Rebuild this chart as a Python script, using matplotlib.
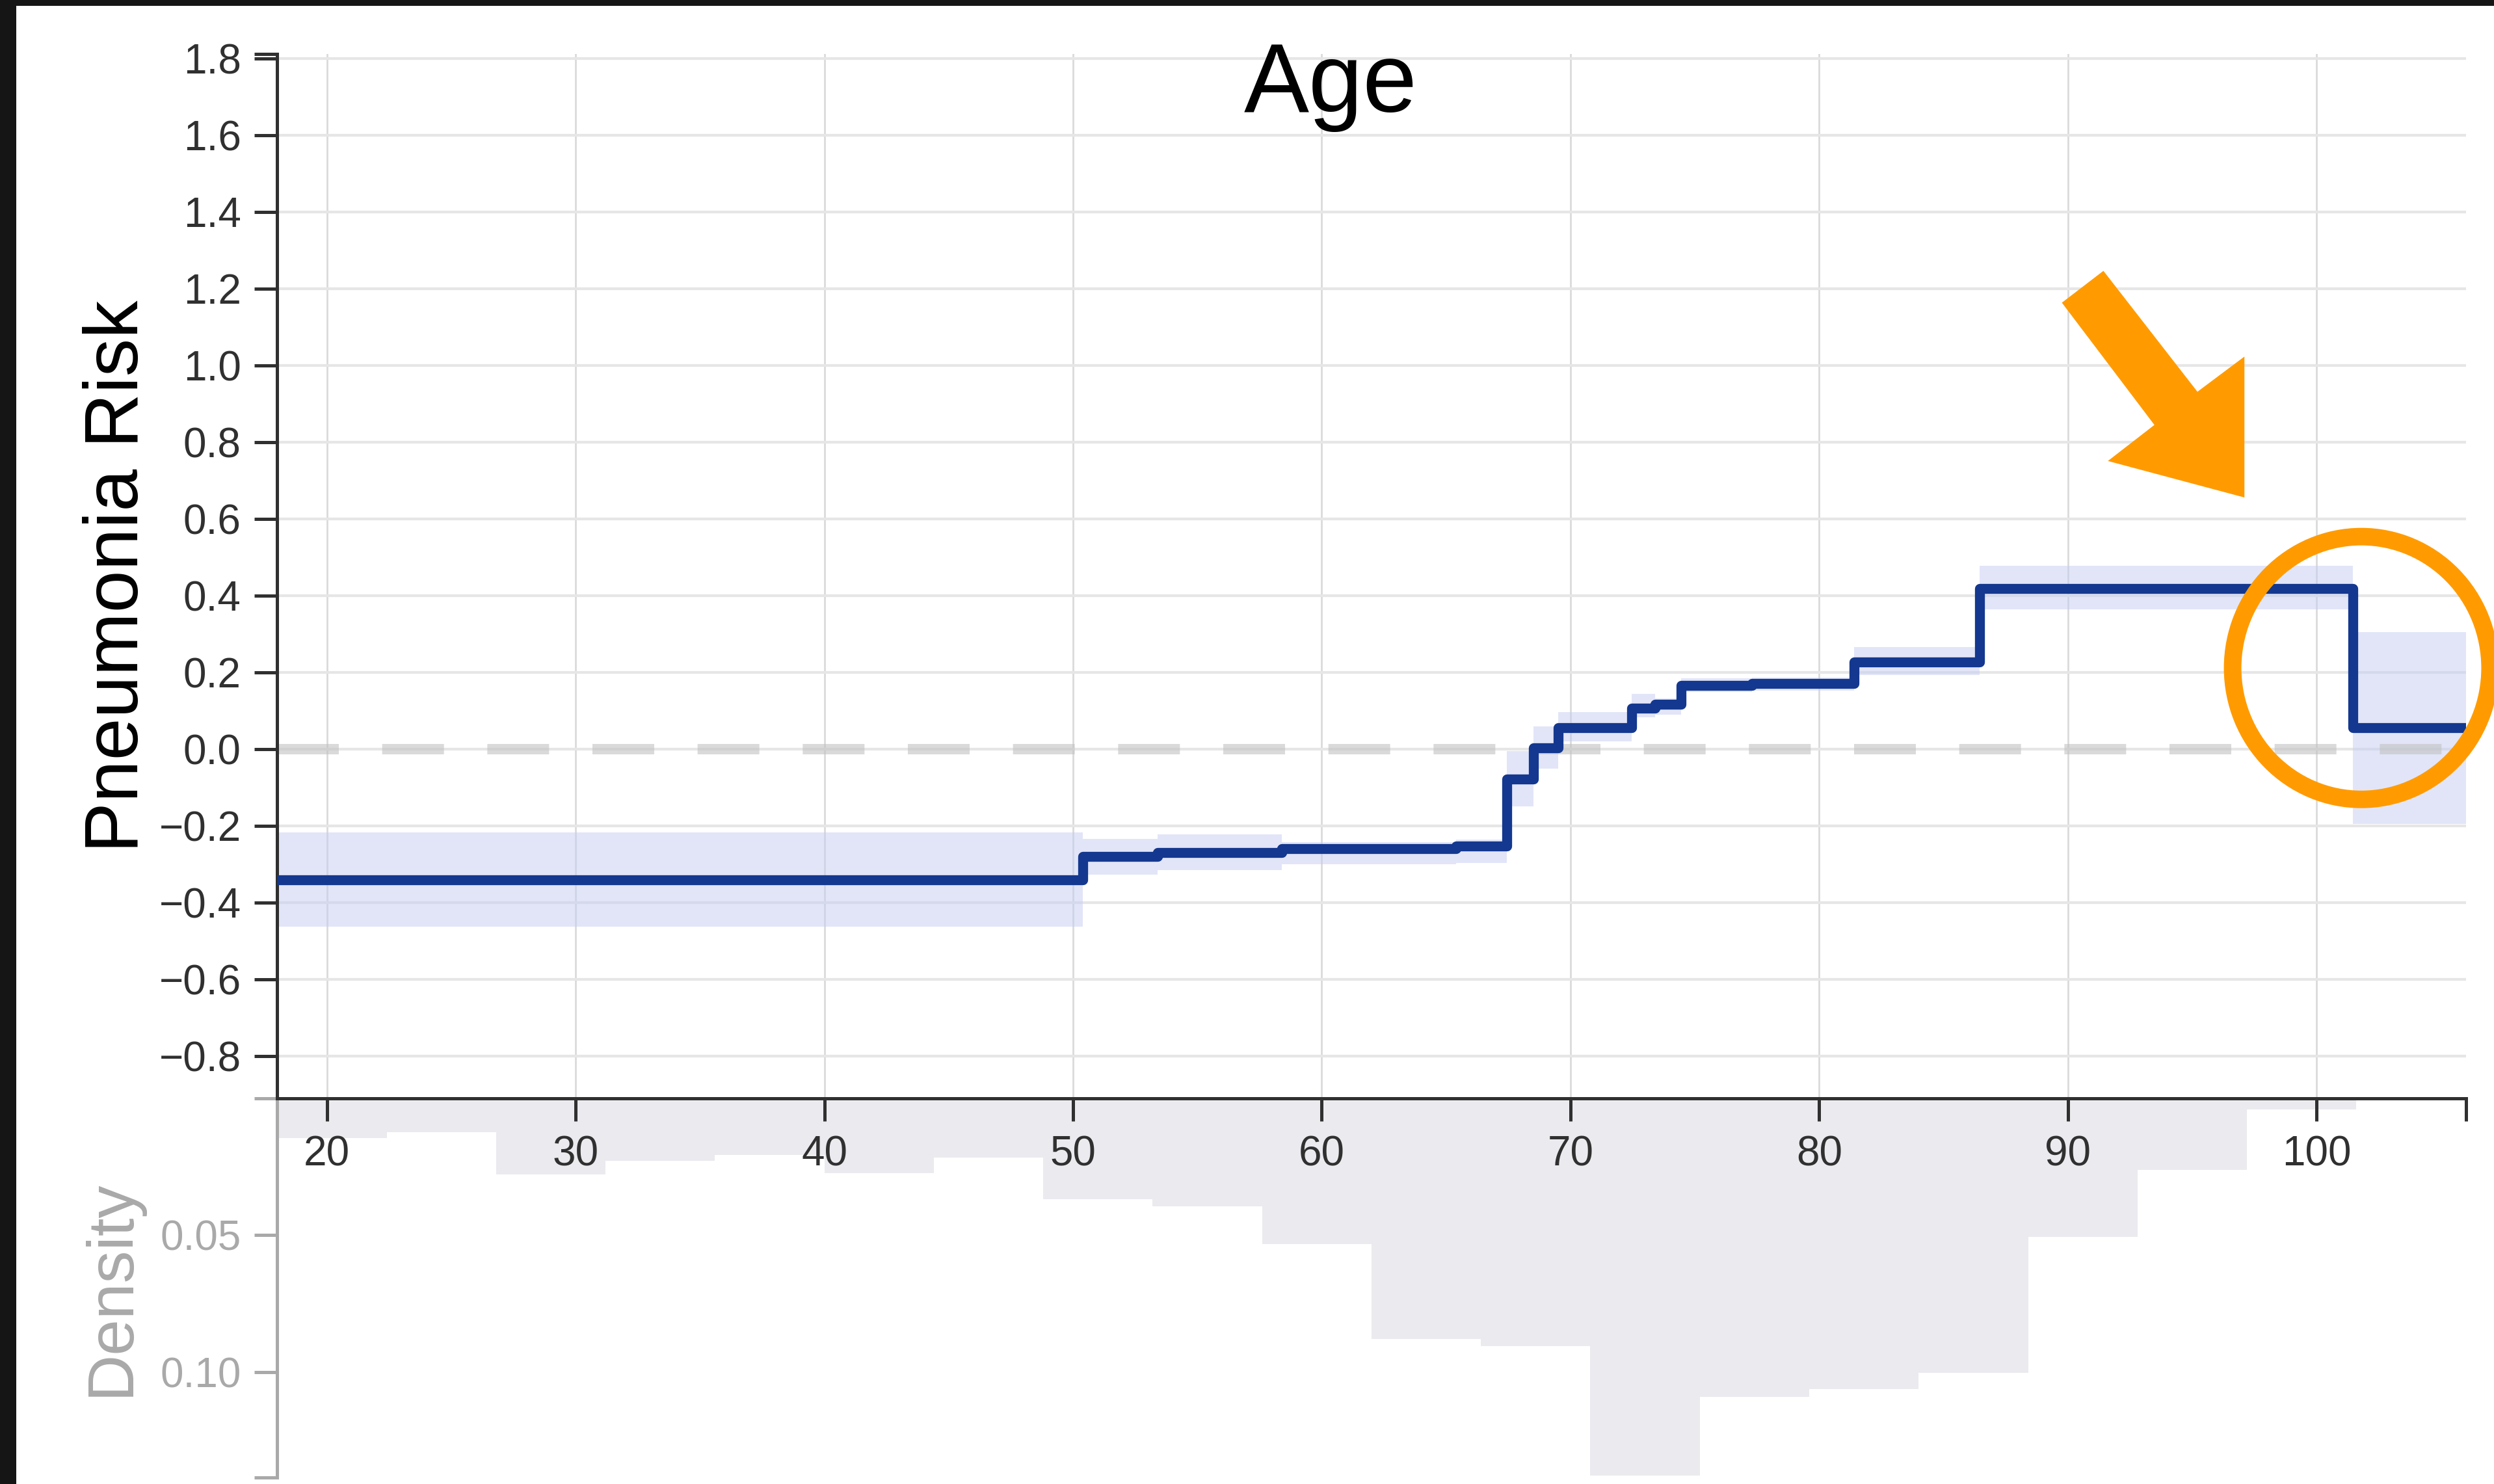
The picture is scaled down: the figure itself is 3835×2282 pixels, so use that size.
import matplotlib
matplotlib.use("Agg")
import matplotlib.pyplot as plt
from matplotlib.patches import Ellipse, Polygon, Rectangle
import numpy as np

plt.rcParams['font.family'] = ['Liberation Sans', 'DejaVu Sans']
plt.rcParams['lines.scale_dashes'] = False

# ---- shape function for Age: piecewise-constant risk term ----
age_edges = [18, 50.4, 53.4, 58.4, 65.4, 67.45, 68.5, 69.5, 72.45, 73.4,
             74.45, 77.3, 81.4, 86.45, 101.45, 106]
risk = [-0.342, -0.281, -0.270, -0.260, -0.254, -0.079, 0.003, 0.055, 0.107,
        0.116, 0.166, 0.170, 0.226, 0.419, 0.055]
risk_upper = [-0.217, -0.234, -0.223, -0.243, -0.237, -0.006, 0.059, 0.096,
              0.144, 0.132, 0.184, 0.186, 0.266, 0.477, 0.305]
risk_lower = [-0.463, -0.327, -0.316, -0.300, -0.298, -0.149, -0.051, 0.020,
              0.082, 0.090, 0.148, 0.152, 0.193, 0.364, -0.195]

# ---- age distribution (fraction of patients per bin) ----
hist_edges = [18, 22.4, 26.8, 31.2, 35.6, 40, 44.4, 48.8, 53.2, 57.6, 62,
              66.4, 70.8, 75.2, 79.6, 84, 88.4, 92.8, 97.2, 101.6, 106]
hist_density = [0.0145, 0.0124, 0.0279, 0.0227, 0.0206, 0.0274, 0.0215,
                0.0369, 0.0395, 0.0532, 0.0878, 0.0904, 0.1378, 0.1090,
                0.1061, 0.1002, 0.0506, 0.0261, 0.0040, 0.0]

x_ticks = [20, 30, 40, 50, 60, 70, 80, 90, 100]
y_ticks = [-0.8, -0.6, -0.4, -0.2, 0.0, 0.2, 0.4, 0.6, 0.8, 1.0, 1.2, 1.4, 1.6, 1.8]
density_ticks = [0.05, 0.10]

X_MIN, X_MAX = 18, 106
Y_MIN, Y_MAX = -0.911, 1.8125
D_MAX = 0.1385

W, H = 3835, 2282
DPI = 100
fig = plt.figure(figsize=(W / DPI, H / DPI), dpi=DPI)
fig.patch.set_facecolor('white')

DARK = '#303030'
GREY = '#a9a9a9'
LINE = '#14388f'
ORANGE = '#ff9b00'
TICK_LEN = 25
TICK_W = 3.6
LABEL_SIZE = 46

left = 426.3 / W
width = (3791.6 - 426.3) / W
main_bottom = 1 - 1689 / H
main_top = 1 - 82.6 / H
dens_bottom = 1 - 2272 / H

# ---- density panel (drawn underneath the main axes) ----
dax = fig.add_axes([left, dens_bottom, width, main_bottom - dens_bottom])
dax.set_zorder(1)
dax.patch.set_alpha(0)
dax.bar(hist_edges[:-1], hist_density, width=np.diff(hist_edges), align='edge',
        color='#eaeaef', linewidth=0)
dax.set_xlim(X_MIN, X_MAX)
dax.set_ylim(D_MAX, 0)
for s in ('top', 'right', 'bottom'):
    dax.spines[s].set_visible(False)
dax.spines['left'].set_color(GREY)
dax.spines['left'].set_linewidth(TICK_W)
dax.set_xticks([])
dax.set_yticks(density_ticks)
dax.set_yticklabels([f'{t:.2f}' for t in density_ticks])
dax.set_yticks([0, D_MAX], minor=True)
dax.tick_params(axis='y', which='both', direction='out', length=TICK_LEN,
                width=TICK_W, color=GREY, labelcolor=GREY,
                labelsize=LABEL_SIZE, pad=15)

# ---- main panel ----
ax = fig.add_axes([left, main_bottom, width, main_top - main_bottom])
ax.set_zorder(2)
ax.set_facecolor('white')
ax.set_xlim(X_MIN, X_MAX)
ax.set_ylim(Y_MIN, Y_MAX)

ax.set_axisbelow(True)
ax.yaxis.grid(True, color='#e6e6e6', linewidth=3.0, zorder=0)
ax.xaxis.grid(True, color='#dadada', linewidth=2.0, zorder=0)

lo = risk_lower + [risk_lower[-1]]
hi = risk_upper + [risk_upper[-1]]
ax.fill_between(age_edges, lo, hi, step='post', color='#c6cdf2', alpha=0.5,
                linewidth=0, zorder=1)

ax.plot([X_MIN, X_MAX], [0, 0], color='#c2c2c2', alpha=0.6, linewidth=11.5,
        dashes=(68.4, 48.0), solid_capstyle='butt', dash_capstyle='butt',
        zorder=2)

ax.step(age_edges, risk + [risk[-1]], where='post', color=LINE, linewidth=11,
        solid_joinstyle='round', solid_capstyle='butt', zorder=3)

for s in ('top', 'right'):
    ax.spines[s].set_visible(False)
for s in ('left', 'bottom'):
    ax.spines[s].set_color(DARK)
    ax.spines[s].set_linewidth(TICK_W)

ax.set_xticks(x_ticks)
ax.set_xticklabels([str(t) for t in x_ticks])
ax.set_xticks([X_MAX], minor=True)
ax.set_yticks(y_ticks)
ax.set_yticklabels([f'{t:.1f}'.replace('-', '\u2212') for t in y_ticks])
ax.set_yticks([1.812], minor=True)
ax.tick_params(axis='both', which='both', direction='out', length=TICK_LEN,
               width=TICK_W, color=DARK, labelcolor=DARK, labelsize=LABEL_SIZE)
ax.tick_params(axis='x', which='major', pad=16)
ax.tick_params(axis='y', which='major', pad=15)

# ---- highlight of the drop at the oldest ages ----
ring = Ellipse((101.8, 0.211), width=10.35, height=0.685, fill=False,
               edgecolor=ORANGE, linewidth=19.4, clip_on=False, zorder=5)
ax.add_patch(ring)
arrow_pts = [(91.43, 1.2464), (95.21, 0.9312), (97.10, 1.0229), (97.10, 0.6556),
             (91.61, 0.7507), (93.48, 0.8447), (89.76, 1.1634)]
ax.add_patch(Polygon(arrow_pts, closed=True, facecolor=ORANGE, edgecolor='none',
                     clip_on=False, zorder=5))

# ---- text ----
fig.text(2046 / W, 1 - 171.9 / H, 'Age', fontsize=108, color='black',
         ha='center', va='baseline')
fig.text(212 / W, 1 - 886.5 / H, 'Pneumonia Risk', fontsize=84, color='black',
         rotation=90, rotation_mode='anchor', ha='center', va='baseline')
fig.text(198 / W, 1 - 1980 / H, 'Density', fontsize=72, color=GREY,
         rotation=90, rotation_mode='anchor', ha='center', va='baseline')

# ---- dark frame on the left and top edges ----
fig.add_artist(Rectangle((0, 0), 25 / W, 1, transform=fig.transFigure,
                         facecolor='#151515', edgecolor='none', zorder=10))
fig.add_artist(Rectangle((0, 1 - 9 / H), 1, 9 / H, transform=fig.transFigure,
                         facecolor='#151515', edgecolor='none', zorder=10))

fig.savefig('out.png', dpi=DPI, facecolor='white')
